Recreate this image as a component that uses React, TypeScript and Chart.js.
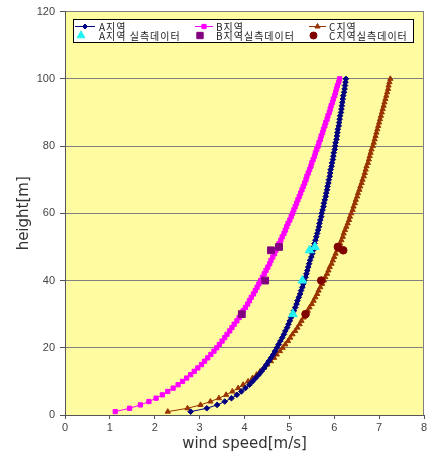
import React, { useEffect, useRef } from "react";
import { Chart, registerables } from "chart.js";
import { drawPoint } from "chart.js/helpers";

Chart.register(...registerables);

const heights = [
  1, 2, 3, 4, 5, 6, 7, 8, 9, 10, 11, 12, 13, 14, 15, 16, 17, 18, 19, 20,
  21, 22, 23, 24, 25, 26, 27, 28, 29, 30, 31, 32, 33, 34, 35, 36, 37, 38, 39, 40,
  41, 42, 43, 44, 45, 46, 47, 48, 49, 50, 51, 52, 53, 54, 55, 56, 57, 58, 59, 60,
  61, 62, 63, 64, 65, 66, 67, 68, 69, 70, 71, 72, 73, 74, 75, 76, 77, 78, 79, 80,
  81, 82, 83, 84, 85, 86, 87, 88, 89, 90, 91, 92, 93, 94, 95, 96, 97, 98, 99, 100,
];

const speedA = [
  2.8, 3.16, 3.39, 3.56, 3.71, 3.83, 3.93, 4.02, 4.11, 4.18,
  4.25, 4.32, 4.38, 4.44, 4.49, 4.54, 4.59, 4.64, 4.68, 4.72,
  4.76, 4.8, 4.84, 4.88, 4.91, 4.95, 4.98, 5.01, 5.04, 5.07,
  5.1, 5.13, 5.16, 5.18, 5.21, 5.24, 5.26, 5.29, 5.31, 5.33,
  5.36, 5.38, 5.4, 5.42, 5.44, 5.46, 5.49, 5.51, 5.53, 5.54,
  5.56, 5.58, 5.6, 5.62, 5.64, 5.66, 5.67, 5.69, 5.71, 5.72,
  5.74, 5.76, 5.77, 5.79, 5.81, 5.82, 5.84, 5.85, 5.87, 5.88,
  5.9, 5.91, 5.92, 5.94, 5.95, 5.97, 5.98, 5.99, 6.01, 6.02,
  6.03, 6.05, 6.06, 6.07, 6.08, 6.1, 6.11, 6.12, 6.13, 6.15,
  6.16, 6.17, 6.18, 6.19, 6.2, 6.22, 6.23, 6.24, 6.25, 6.26,
];

const speedB = [
  1.12, 1.44, 1.68, 1.87, 2.03, 2.17, 2.29, 2.41, 2.52, 2.62,
  2.71, 2.8, 2.88, 2.96, 3.04, 3.11, 3.18, 3.25, 3.32, 3.38,
  3.44, 3.5, 3.56, 3.61, 3.67, 3.72, 3.77, 3.83, 3.88, 3.92,
  3.97, 4.02, 4.07, 4.11, 4.15, 4.2, 4.24, 4.28, 4.32, 4.36,
  4.4, 4.44, 4.48, 4.52, 4.56, 4.59, 4.63, 4.67, 4.7, 4.74,
  4.77, 4.81, 4.84, 4.88, 4.91, 4.94, 4.97, 5.01, 5.04, 5.07,
  5.1, 5.13, 5.16, 5.19, 5.22, 5.25, 5.28, 5.31, 5.34, 5.37,
  5.39, 5.42, 5.45, 5.48, 5.5, 5.53, 5.56, 5.58, 5.61, 5.64,
  5.66, 5.69, 5.71, 5.74, 5.76, 5.79, 5.81, 5.84, 5.86, 5.89,
  5.91, 5.93, 5.96, 5.98, 6.01, 6.03, 6.05, 6.07, 6.1, 6.12,
];

const speedC = [
  2.29, 2.73, 3.02, 3.24, 3.43, 3.59, 3.73, 3.86, 3.97, 4.08,
  4.18, 4.27, 4.35, 4.43, 4.51, 4.59, 4.66, 4.72, 4.79, 4.85,
  4.91, 4.97, 5.02, 5.07, 5.13, 5.18, 5.23, 5.27, 5.32, 5.37,
  5.41, 5.45, 5.5, 5.54, 5.58, 5.62, 5.65, 5.69, 5.73, 5.77,
  5.8, 5.84, 5.87, 5.9, 5.94, 5.97, 6.0, 6.03, 6.07, 6.1,
  6.13, 6.16, 6.19, 6.21, 6.24, 6.27, 6.3, 6.33, 6.35, 6.38,
  6.41, 6.43, 6.46, 6.48, 6.51, 6.53, 6.56, 6.58, 6.61, 6.63,
  6.66, 6.68, 6.7, 6.72, 6.75, 6.77, 6.79, 6.81, 6.83, 6.86,
  6.88, 6.9, 6.92, 6.94, 6.96, 6.98, 7.0, 7.02, 7.04, 7.06,
  7.08, 7.1, 7.12, 7.14, 7.16, 7.18, 7.2, 7.21, 7.23, 7.25,
];

const measHeights = [30, 40, 49, 50];
const measA = [5.08, 5.29, 5.45, 5.57];
const measB = [3.94, 4.46, 4.59, 4.77];
const measC = [5.36, 5.71, 6.2, 6.08];

const curveLabels = ["A지역", "B지역", "C지역"];
const measLabels = ["A지역 실측데이터", "B지역실측데이터", "C지역실측데이터"];

const X_MIN = 0;
const X_MAX = 8;
const X_STEP = 1;
const Y_MIN = 0;
const Y_MAX = 120;
const Y_STEP = 20;

const COLORS = {
  a: "#000080",
  b: "#FF00FF",
  c: "#993300",
  ma: "#22F2F2",
  mb: "#800080",
  mc: "#800000",
};

const toPoints = (xs: number[], ys: number[]) => xs.map((x, i) => ({ x, y: ys[i] }));

const plotBgPlugin = {
  id: "plotBg",
  beforeDraw(chart: any) {
    const { ctx, chartArea } = chart;
    ctx.save();
    ctx.fillStyle = "#FEFBA0";
    ctx.fillRect(chartArea.left, chartArea.top, chartArea.right - chartArea.left, chartArea.bottom - chartArea.top);
    ctx.restore();
  },
  beforeDatasetsDraw(chart: any) {
    const { ctx, chartArea } = chart;
    ctx.save();
    ctx.strokeStyle = "#808080";
    ctx.lineWidth = 1;
    ctx.beginPath();
    ctx.moveTo(Math.round(chartArea.right) - 0.5, chartArea.top);
    ctx.lineTo(Math.round(chartArea.right) - 0.5, chartArea.bottom);
    ctx.stroke();
    ctx.restore();
  },
};

const boxLegendPlugin = {
  id: "boxLegend",
  afterDraw(chart: any) {
    const { ctx, chartArea } = chart;
    const left = Math.round(chartArea.left) + 8;
    const top = Math.round(chartArea.top) + 7;
    const right = Math.round(chartArea.right) - 11;
    const bottom = top + 23;
    ctx.save();
    ctx.fillStyle = "#ffffff";
    ctx.fillRect(left, top, right - left, bottom - top);
    ctx.strokeStyle = "#000000";
    ctx.lineWidth = 1;
    ctx.strokeRect(left + 0.5, top + 0.5, right - left, bottom - top);

    const cols = [
      { x0: left + 2, x1: left + 22, tx: left + 26 },
      { x0: left + 122, x1: left + 140, tx: left + 143 },
      { x0: left + 236, x1: left + 253, tx: left + 256 },
    ];
    const row1 = top + 7.5;
    const row2 = top + 16.5;
    const curveStyles = [
      { color: COLORS.a, style: "rectRot", r: 2.5 },
      { color: COLORS.b, style: "rect", r: 3 },
      { color: COLORS.c, style: "triangle", r: 3 },
    ];
    const measStyles = [
      { color: COLORS.ma, style: "triangle", r: 4.5 },
      { color: COLORS.mb, style: "rect", r: 4.5 },
      { color: COLORS.mc, style: "circle", r: 3.5 },
    ];
    ctx.font = '10px "Noto Sans CJK KR"';
    (ctx as any).letterSpacing = "1px";
    ctx.textBaseline = "middle";
    ctx.textAlign = "left";
    cols.forEach((c, i) => {
      const cs = curveStyles[i];
      ctx.strokeStyle = cs.color;
      ctx.fillStyle = cs.color;
      ctx.lineWidth = 1;
      ctx.beginPath();
      ctx.moveTo(c.x0, row1);
      ctx.lineTo(c.x1, row1);
      ctx.stroke();
      drawPoint(ctx, { pointStyle: cs.style as any, radius: cs.r, rotation: 0, borderWidth: 1 }, (c.x0 + c.x1) / 2, row1);
      ctx.fillStyle = "#222222";
      ctx.fillText(curveLabels[i], c.tx, row1 + 0.5);

      const ms = measStyles[i];
      ctx.strokeStyle = ms.color;
      ctx.fillStyle = ms.color;
      drawPoint(ctx, { pointStyle: ms.style as any, radius: ms.r, rotation: 0, borderWidth: 1 }, (c.x0 + c.x1) / 2 - 4, row2);
      ctx.fillStyle = "#222222";
      ctx.fillText(measLabels[i], c.tx, row2 + 0.5);
    });
    ctx.restore();
  },
};

export default function App() {
  const canvasRef = useRef<HTMLCanvasElement | null>(null);

  useEffect(() => {
    document.body.style.margin = "0";
    const canvas = canvasRef.current;
    if (!canvas) return;

    const curve = (label: string, ys: number[], color: string, style: string, r: number) => ({
      label,
      data: toPoints(ys, heights),
      showLine: true,
      borderColor: color,
      backgroundColor: color,
      borderWidth: 1,
      pointStyle: style,
      pointRadius: r,
      pointBorderWidth: 1,
      pointBorderColor: color,
      pointBackgroundColor: color,
      order: 1,
    });
    const meas = (label: string, xs: number[], color: string, style: string, r: number) => ({
      label,
      data: toPoints(xs, measHeights),
      showLine: false,
      borderColor: color,
      backgroundColor: color,
      pointStyle: style,
      pointRadius: r,
      pointBorderWidth: 1,
      pointBorderColor: color,
      pointBackgroundColor: color,
      order: 0,
    });

    const chart = new Chart(canvas, {
      type: "scatter",
      data: {
        datasets: [
          curve(curveLabels[0], speedA, COLORS.a, "rectRot", 2.8),
          curve(curveLabels[1], speedB, COLORS.b, "rect", 3),
          curve(curveLabels[2], speedC, COLORS.c, "triangle", 3),
          meas(measLabels[0], measA, COLORS.ma, "triangle", 5),
          meas(measLabels[1], measB, COLORS.mb, "rect", 4.8),
          meas(measLabels[2], measC, COLORS.mc, "circle", 3.8),
        ] as any,
      },
      options: {
        responsive: false,
        animation: false,
        devicePixelRatio: 1,
        layout: { padding: { top: 11, right: 2, left: 0, bottom: 0 } },
        plugins: {
          legend: { display: false },
          tooltip: { enabled: false },
        },
        scales: {
          x: {
            type: "linear",
            min: X_MIN,
            max: X_MAX,
            afterFit(scale: any) {
              scale.height = 38;
              scale.paddingRight = 2;
              scale.paddingLeft = 0;
            },
            ticks: {
              stepSize: X_STEP,
              color: "#444",
              font: { family: '"Liberation Sans", sans-serif', size: 11 },
              padding: 2,
              maxRotation: 0,
            },
            grid: {
              drawOnChartArea: false,
              drawTicks: true,
              tickLength: 4,
              tickColor: "#555",
            },
            border: { display: true, color: "#555", width: 1 },
            title: {
              display: true,
              text: "wind speed[m/s]",
              color: "#333",
              font: { family: '"DejaVu Sans", sans-serif', size: 15 },
              padding: { top: 0, bottom: 0 },
            },
          },
          y: {
            type: "linear",
            min: Y_MIN,
            max: Y_MAX,
            afterFit(scale: any) {
              scale.width = 65;
            },
            ticks: {
              stepSize: Y_STEP,
              color: "#444",
              font: { family: '"Liberation Sans", sans-serif', size: 11 },
              padding: 5,
            },
            grid: {
              color: "#808080",
              lineWidth: 1,
              drawTicks: true,
              tickLength: 5,
              tickColor: "#555",
            },
            border: { display: true, color: "#555", width: 1 },
            title: {
              display: true,
              text: "height[m]",
              color: "#333",
              font: { family: '"DejaVu Sans", sans-serif', size: 15 },
              padding: { top: 15, bottom: 0 },
            },
          },
        },
      },
      plugins: [plotBgPlugin, boxLegendPlugin],
    });

    return () => chart.destroy();
  }, []);

  return (
    <div style={{ width: 430, height: 453 }}>
      <canvas ref={canvasRef} width={430} height={453} style={{ width: 430, height: 453, display: "block" }} />
    </div>
  );
}
